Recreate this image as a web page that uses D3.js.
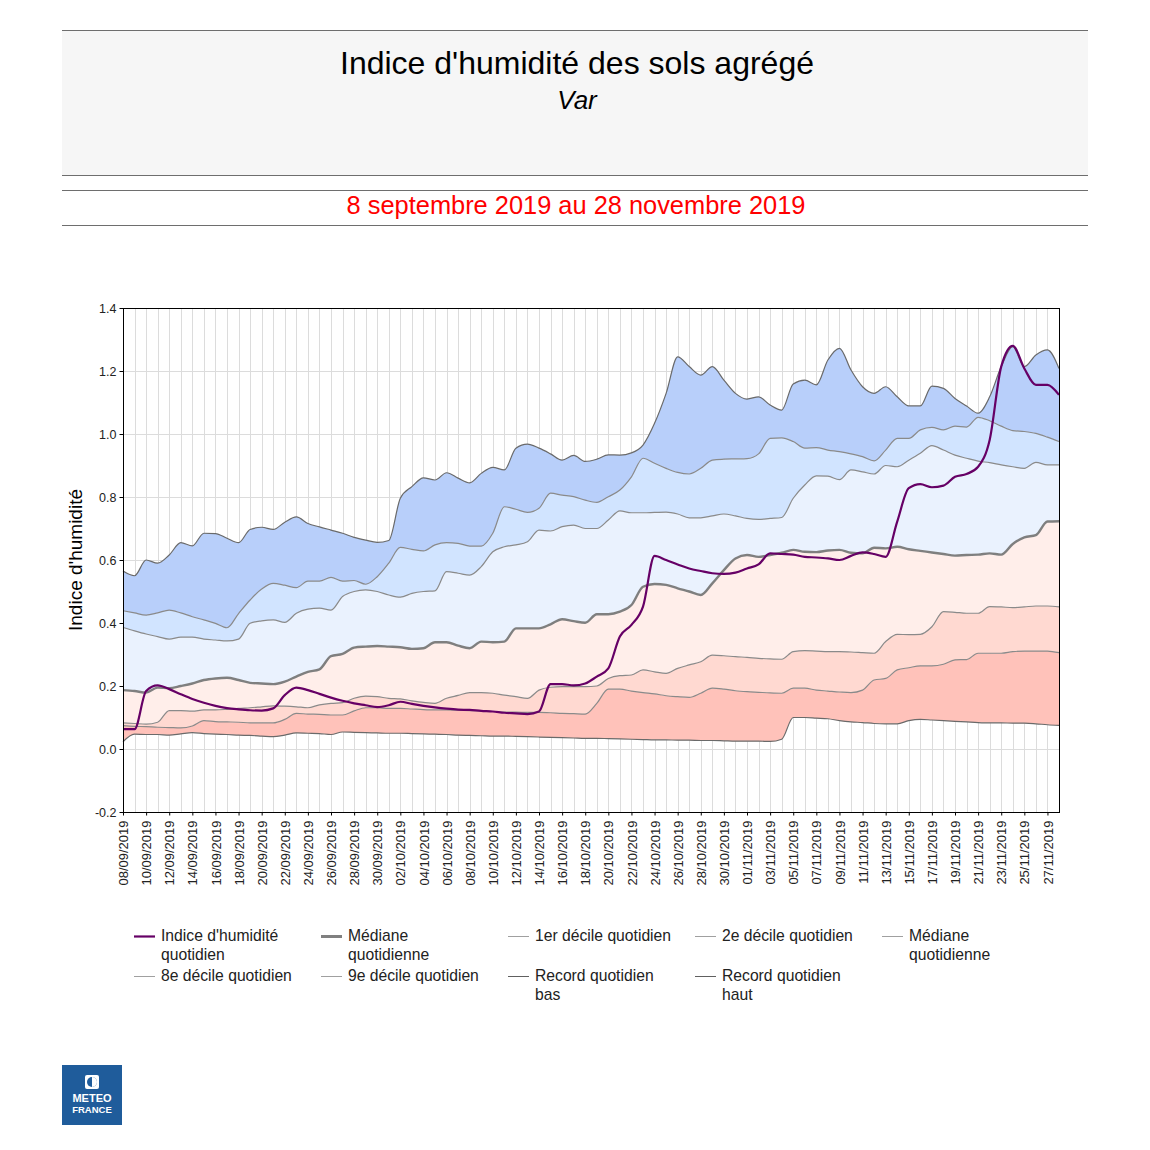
<!DOCTYPE html>
<html><head><meta charset="utf-8">
<script src="https://cdnjs.cloudflare.com/ajax/libs/d3/7.8.5/d3.min.js"></script>
<style>
html,body{margin:0;padding:0;background:#fff;}
svg{display:block;font-family:"Liberation Sans",Arial,sans-serif;}
</style></head>
<body>
<svg id="chart" width="1150" height="1150"></svg>
<script>
// ---------- DATA ----------
const titleText = "Indice d'humidité des sols agrégé";
const subtitleText = "Var";
const periodText = "8 septembre 2019 au 28 novembre 2019";
const yAxisTitle = "Indice d'humidité";
const startDate = "08/09/2019";
const endDate = "28/11/2019";
const yTicks = [-0.2, 0.0, 0.2, 0.4, 0.6, 0.8, 1.0, 1.2, 1.4];
const tickLabels = ["08/09/2019","10/09/2019","12/09/2019","14/09/2019","16/09/2019","18/09/2019","20/09/2019","22/09/2019","24/09/2019","26/09/2019","28/09/2019","30/09/2019","02/10/2019","04/10/2019","06/10/2019","08/10/2019","10/10/2019","12/10/2019","14/10/2019","16/10/2019","18/10/2019","20/10/2019","22/10/2019","24/10/2019","26/10/2019","28/10/2019","30/10/2019","01/11/2019","03/11/2019","05/11/2019","07/11/2019","09/11/2019","11/11/2019","13/11/2019","15/11/2019","17/11/2019","19/11/2019","21/11/2019","23/11/2019","25/11/2019","27/11/2019"];

const indice = [0.063,0.063,0.184,0.202,0.19,0.174,0.159,0.147,0.137,0.13,0.126,0.123,0.122,0.129,0.171,0.195,0.187,0.175,0.163,0.153,0.145,0.139,0.133,0.139,0.15,0.143,0.137,0.132,0.128,0.125,0.124,0.121,0.119,0.115,0.113,0.111,0.119,0.206,0.206,0.202,0.208,0.23,0.256,0.357,0.394,0.452,0.613,0.6,0.586,0.573,0.565,0.558,0.556,0.56,0.573,0.586,0.621,0.619,0.617,0.61,0.608,0.605,0.6,0.613,0.624,0.619,0.61,0.722,0.828,0.841,0.831,0.836,0.864,0.873,0.896,0.981,1.214,1.28,1.208,1.156,1.156,1.124];
const recordBas = [0.023,0.047,0.046,0.046,0.044,0.048,0.052,0.049,0.047,0.046,0.044,0.043,0.041,0.039,0.044,0.051,0.05,0.049,0.046,0.054,0.053,0.052,0.051,0.05,0.05,0.049,0.048,0.047,0.046,0.044,0.043,0.042,0.041,0.041,0.04,0.039,0.038,0.037,0.036,0.035,0.034,0.034,0.033,0.032,0.031,0.03,0.029,0.029,0.028,0.028,0.027,0.027,0.026,0.025,0.025,0.025,0.024,0.031,0.1,0.1,0.098,0.096,0.09,0.086,0.084,0.081,0.08,0.08,0.09,0.094,0.092,0.09,0.088,0.086,0.084,0.083,0.083,0.082,0.082,0.08,0.077,0.075];
const decile1 = [0.074,0.072,0.071,0.069,0.068,0.067,0.073,0.09,0.087,0.086,0.085,0.083,0.083,0.083,0.094,0.113,0.111,0.11,0.108,0.108,0.121,0.131,0.131,0.129,0.129,0.127,0.125,0.124,0.124,0.123,0.122,0.121,0.119,0.117,0.117,0.116,0.116,0.115,0.113,0.112,0.111,0.145,0.19,0.19,0.184,0.179,0.175,0.169,0.166,0.164,0.177,0.193,0.19,0.185,0.182,0.18,0.178,0.177,0.193,0.193,0.187,0.184,0.181,0.179,0.187,0.219,0.224,0.251,0.258,0.264,0.264,0.269,0.283,0.284,0.304,0.304,0.304,0.309,0.311,0.311,0.311,0.306];
const decile2 = [0.083,0.081,0.079,0.085,0.122,0.122,0.12,0.124,0.124,0.126,0.129,0.131,0.134,0.137,0.136,0.134,0.131,0.14,0.145,0.147,0.161,0.168,0.166,0.161,0.159,0.153,0.148,0.145,0.161,0.17,0.179,0.179,0.177,0.171,0.166,0.161,0.187,0.196,0.198,0.198,0.198,0.2,0.224,0.233,0.235,0.251,0.245,0.24,0.256,0.267,0.277,0.298,0.296,0.293,0.291,0.288,0.286,0.285,0.309,0.312,0.311,0.309,0.309,0.308,0.306,0.304,0.341,0.364,0.363,0.364,0.388,0.436,0.434,0.431,0.431,0.452,0.451,0.449,0.451,0.454,0.454,0.451];
const mediane = [0.187,0.184,0.179,0.195,0.193,0.2,0.208,0.219,0.224,0.226,0.219,0.21,0.208,0.206,0.214,0.23,0.245,0.253,0.295,0.302,0.322,0.325,0.327,0.325,0.323,0.318,0.32,0.339,0.339,0.328,0.32,0.341,0.339,0.341,0.383,0.383,0.383,0.396,0.412,0.406,0.401,0.428,0.428,0.436,0.457,0.515,0.524,0.521,0.51,0.5,0.489,0.526,0.568,0.605,0.616,0.61,0.616,0.623,0.632,0.626,0.625,0.63,0.632,0.623,0.621,0.639,0.637,0.642,0.634,0.629,0.624,0.619,0.614,0.616,0.617,0.621,0.617,0.651,0.672,0.679,0.722,0.723];
const decile8 = [0.386,0.375,0.365,0.357,0.349,0.355,0.355,0.349,0.346,0.343,0.349,0.399,0.407,0.41,0.402,0.431,0.444,0.447,0.441,0.484,0.5,0.505,0.5,0.489,0.482,0.494,0.5,0.502,0.563,0.558,0.552,0.579,0.626,0.642,0.648,0.658,0.695,0.692,0.706,0.711,0.7,0.7,0.727,0.756,0.75,0.75,0.751,0.752,0.746,0.734,0.734,0.74,0.746,0.74,0.732,0.729,0.732,0.735,0.796,0.838,0.867,0.866,0.855,0.886,0.88,0.873,0.9,0.896,0.917,0.939,0.963,0.949,0.933,0.923,0.914,0.909,0.902,0.896,0.891,0.91,0.902,0.902];
const decile9 = [0.439,0.432,0.425,0.432,0.441,0.432,0.42,0.41,0.399,0.385,0.43,0.473,0.508,0.526,0.52,0.512,0.533,0.533,0.545,0.533,0.535,0.523,0.547,0.59,0.64,0.634,0.629,0.648,0.655,0.653,0.644,0.644,0.685,0.769,0.761,0.751,0.764,0.812,0.806,0.801,0.79,0.783,0.801,0.822,0.864,0.923,0.907,0.891,0.878,0.873,0.891,0.917,0.92,0.921,0.922,0.937,0.986,0.988,0.976,0.955,0.957,0.949,0.944,0.937,0.928,0.915,0.949,0.986,0.986,1.013,1.021,1.013,1.025,1.022,1.053,1.042,1.025,1.011,1.008,1.002,0.99,0.976];
const recordHaut = [0.565,0.55,0.6,0.59,0.616,0.655,0.645,0.685,0.684,0.669,0.655,0.697,0.704,0.697,0.72,0.737,0.716,0.705,0.695,0.685,0.672,0.663,0.656,0.662,0.796,0.833,0.861,0.854,0.877,0.86,0.845,0.875,0.894,0.886,0.955,0.968,0.955,0.937,0.917,0.932,0.913,0.92,0.934,0.933,0.94,0.965,1.034,1.129,1.245,1.214,1.187,1.214,1.171,1.129,1.111,1.118,1.092,1.076,1.159,1.171,1.156,1.235,1.272,1.203,1.15,1.129,1.15,1.118,1.089,1.089,1.152,1.145,1.113,1.089,1.066,1.118,1.214,1.277,1.214,1.251,1.267,1.208];

const bandColors = ["#ffc2ba","#ffd9d1","#ffeeea","#eaf2fe","#d1e4ff","#b8cffa"];
const legendLabels = [
  ["Indice d'humidité","quotidien"],["Médiane","quotidienne"],["1er décile quotidien"],["2e décile quotidien"],["Médiane","quotidienne"],
  ["8e décile quotidien"],["9e décile quotidien"],["Record quotidien","bas"],["Record quotidien","haut"]
];

// ---------- LAYOUT ----------
const svg = d3.select("#chart");
const W = 1150;
const plot = {l:123, r:1059, t:308, b:812};
const parse = d3.timeParse("%d/%m/%Y");
const days = d3.timeDay.range(parse(startDate), d3.timeDay.offset(parse(endDate), 1));
const x = d3.scaleTime().domain([days[0], days[days.length-1]]).range([plot.l, plot.r]);
const y = d3.scaleLinear().domain([yTicks[0], yTicks[yTicks.length-1]]).range([plot.b, plot.t]);

svg.append("rect").attr("width", W).attr("height", 1150).attr("fill", "#fff");

// header
svg.append("rect").attr("x", 62).attr("y", 30).attr("width", 1026).attr("height", 145).attr("fill", "#f6f6f6");
[30.5, 175.5, 190.5, 225.5].forEach(yy => {
  svg.append("line").attr("x1", 62).attr("x2", 1088).attr("y1", yy).attr("y2", yy).attr("stroke", "#6e6e6e").attr("stroke-width", 1);
});
svg.append("text").attr("x", 577).attr("y", 74).attr("text-anchor", "middle").attr("font-size", 32).attr("fill", "#000").text(titleText);
svg.append("text").attr("x", 577).attr("y", 109).attr("text-anchor", "middle").attr("font-size", 26).attr("font-style", "italic").attr("fill", "#000").text(subtitleText);
svg.append("text").attr("x", 576).attr("y", 214).attr("text-anchor", "middle").attr("font-size", 25.4).attr("fill", "#ff0000").text(periodText);

// grid
const g = svg.append("g");
g.selectAll("line.vg").data(days.slice(1, -1)).join("line")
  .attr("x1", d => Math.round(x(d)) + 0.5).attr("x2", d => Math.round(x(d)) + 0.5)
  .attr("y1", plot.t).attr("y2", plot.b).attr("stroke", "#dcdcdc").attr("stroke-width", 1);
g.selectAll("line.hg").data(yTicks.slice(1, -1)).join("line")
  .attr("x1", plot.l).attr("x2", plot.r)
  .attr("y1", d => Math.round(y(d)) + 0.5).attr("y2", d => Math.round(y(d)) + 0.5)
  .attr("stroke", "#dcdcdc").attr("stroke-width", 1);

// bands
const series = [recordBas, decile1, decile2, mediane, decile8, decile9, recordHaut];
const curve = d3.curveMonotoneX;
for (let k = 0; k < 6; k++) {
  const lo = series[k], hi = series[k+1];
  const area = d3.area().curve(curve).x((d, i) => x(days[i])).y0((d, i) => y(lo[i])).y1((d, i) => y(hi[i]));
  g.append("path").datum(lo).attr("d", area).attr("fill", bandColors[k]).attr("stroke", "none");
}
const line = d3.line().curve(curve).x((d, i) => x(days[i])).y(d => y(d));
const lineStyles = [
  {s: recordBas, c: "#6a6a6a", w: 1.2},
  {s: decile1, c: "#8a8a8a", w: 1.2},
  {s: decile2, c: "#8a8a8a", w: 1.2},
  {s: decile8, c: "#8a8a8a", w: 1.2},
  {s: decile9, c: "#8a8a8a", w: 1.2},
  {s: recordHaut, c: "#6a6a6a", w: 1.2},
  {s: mediane, c: "#7f7f7f", w: 2.4}
];
lineStyles.forEach(ls => {
  g.append("path").datum(ls.s).attr("d", line).attr("fill", "none").attr("stroke", ls.c).attr("stroke-width", ls.w);
});
g.append("path").datum(indice).attr("d", line).attr("fill", "none").attr("stroke", "#660066").attr("stroke-width", 2.2);

// border
svg.append("rect").attr("x", plot.l + 0.5).attr("y", plot.t + 0.5).attr("width", plot.r - plot.l).attr("height", plot.b - plot.t)
  .attr("fill", "none").attr("stroke", "#000").attr("stroke-width", 1);

// axes
const yAxis = d3.axisLeft(y).tickValues(yTicks).tickFormat(d => d.toFixed(1)).tickSize(4);
const ya = svg.append("g").attr("transform", `translate(${plot.l + 0.5},0)`).call(yAxis);
ya.select(".domain").remove();
ya.selectAll("text").attr("font-size", 12.5).attr("font-family", "Liberation Sans, Arial, sans-serif").attr("fill", "#222");
ya.selectAll("line").attr("stroke", "#000");

const xAxis = d3.axisBottom(x).tickValues(tickLabels.map(parse)).tickFormat(d3.timeFormat("%d/%m/%Y")).tickSize(3);
const xa = svg.append("g").attr("transform", `translate(0,${plot.b + 0.5})`).call(xAxis);
xa.select(".domain").remove();
xa.selectAll("line").attr("stroke", "#000");
xa.selectAll("text").attr("font-size", 13).attr("font-family", "Liberation Sans, Arial, sans-serif").attr("fill", "#222")
  .attr("text-anchor", "end").attr("transform", "rotate(-90)").attr("x", -8).attr("y", 0).attr("dy", "0.35em");

svg.append("text").attr("transform", `translate(82,${(plot.t + plot.b) / 2}) rotate(-90)`).attr("text-anchor", "middle")
  .attr("font-size", 19).attr("fill", "#000").text(yAxisTitle);

// legend
const legendStyles = [
  {c: "#660066", w: 2.2}, {c: "#808080", w: 3}, {c: "#a0a0a0", w: 1}, {c: "#a0a0a0", w: 1}, {c: "#a0a0a0", w: 1},
  {c: "#a0a0a0", w: 1}, {c: "#a0a0a0", w: 1}, {c: "#606060", w: 1}, {c: "#606060", w: 1}
];
const lg = svg.append("g");
legendLabels.forEach((lab, i) => {
  const col = i < 5 ? i : i - 5;
  const row = i < 5 ? 0 : 1;
  const lx = 134 + col * 187;
  const ly = 936 + row * 40;
  lg.append("line").attr("x1", lx).attr("x2", lx + 21).attr("y1", ly + 0.5).attr("y2", ly + 0.5)
    .attr("stroke", legendStyles[i].c).attr("stroke-width", legendStyles[i].w);
  lab.forEach((t, j) => {
    lg.append("text").attr("x", lx + 27).attr("y", ly + 5 + j * 19).attr("font-size", 15.7).attr("fill", "#222").text(t);
  });
});

// logo
const logo = svg.append("g").attr("transform", "translate(62,1065)");
logo.append("rect").attr("width", 60).attr("height", 60).attr("fill", "#1f5c9b");
logo.append("rect").attr("x", 23).attr("y", 10).attr("width", 14).attr("height", 14).attr("rx", 2).attr("fill", "#fff");
logo.append("circle").attr("cx", 30).attr("cy", 17).attr("r", 5).attr("fill", "#1f5c9b");
logo.append("path").attr("d", "M30,12 A5,5 0 0,1 30,22 Z").attr("fill", "#fff");
logo.append("text").attr("x", 30).attr("y", 37).attr("text-anchor", "middle").attr("font-size", 11).attr("font-weight", "bold").attr("fill", "#fff").text("METEO");
logo.append("text").attr("x", 30).attr("y", 48).attr("text-anchor", "middle").attr("font-size", 9.5).attr("font-weight", "bold").attr("fill", "#fff").text("FRANCE");
</script>
</body></html>
